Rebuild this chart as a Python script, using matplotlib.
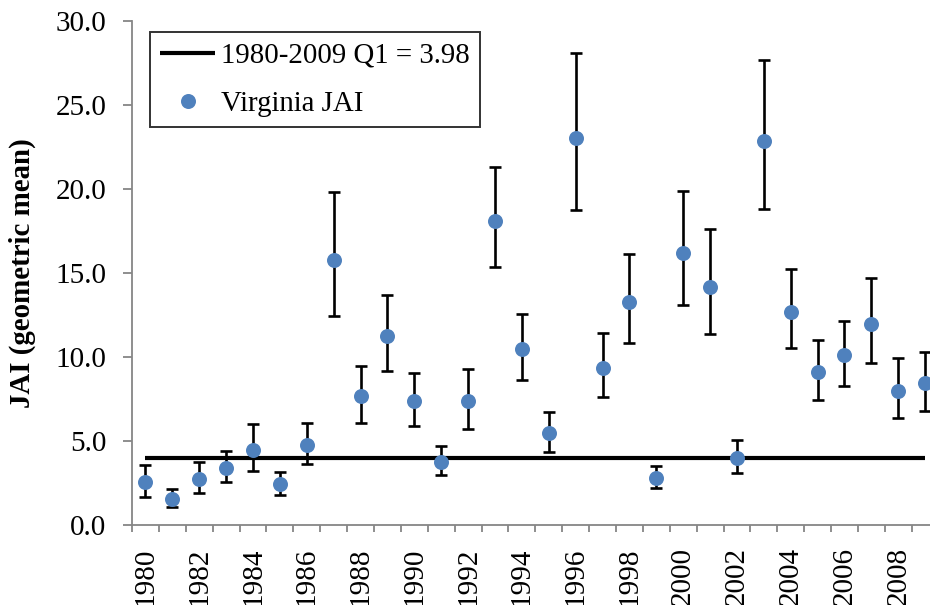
import matplotlib
matplotlib.use("Agg")
import matplotlib.pyplot as plt
from matplotlib.ticker import FixedLocator, FuncFormatter
import numpy as np

years = list(range(1980, 2010))
jai = [2.54, 1.57, 2.72, 3.41, 4.46, 2.44, 4.76, 15.77, 7.66, 11.25,
       7.36, 3.77, 7.36, 18.11, 10.48, 5.46, 23.01, 9.37, 13.27, 2.78,
       16.17, 14.17, 3.99, 22.88, 12.70, 9.11, 10.12, 11.96, 7.99, 8.43]
upper = [3.57, 2.12, 3.73, 4.40, 6.01, 3.15, 6.07, 19.85, 9.46, 13.69,
         9.07, 4.70, 9.31, 21.33, 12.58, 6.75, 28.07, 11.41, 16.11, 3.53,
         19.90, 17.60, 5.06, 27.68, 15.22, 11.01, 12.16, 14.70, 9.92, 10.32]
lower = [1.69, 1.09, 1.89, 2.54, 3.21, 1.80, 3.63, 12.44, 6.09, 9.17,
         5.89, 2.96, 5.71, 15.34, 8.65, 4.33, 18.75, 7.60, 10.81, 2.18,
         13.10, 11.35, 3.08, 18.83, 10.52, 7.46, 8.29, 9.66, 6.35, 6.80]
q1_value = 3.98
q1_label = "1980-2009 Q1 = 3.98"
series_label = "Virginia JAI"
y_label = "JAI (geometric mean)"

plt.rcParams["font.family"] = ["Liberation Serif", "DejaVu Serif"]
plt.rcParams["font.size"] = 21

W, H = 930, 605
fig = plt.figure(figsize=(W / 100, H / 100), dpi=100)
ax = fig.add_axes([132 / W, (H - 525) / H, (938.6 - 132) / W, (525 - 21) / H])

x = np.arange(len(years))
jai_a = np.array(jai)
err = [jai_a - np.array(lower), np.array(upper) - jai_a]

ax.plot(x, [q1_value] * len(x), color="black", lw=3.0, zorder=2,
        solid_capstyle="butt", label=q1_label)
ax.errorbar(x, jai_a, yerr=err, fmt="none", ecolor="black", elinewidth=1.9,
            capsize=4.5, capthick=1.9, zorder=3)
ax.plot(x, jai_a, "o", color="#4F81BD", markersize=10.8, markeredgewidth=0,
        zorder=4, label=series_label)

ax.set_xlim(-0.5, len(years) - 0.5)
ax.set_ylim(0, 30)
ax.set_yticks(np.arange(0, 30.1, 5))
ax.yaxis.set_major_formatter(FuncFormatter(lambda v, p: f"{v:.1f}"))

ax.xaxis.set_major_locator(FixedLocator(x[::2]))
ax.set_xticklabels([str(y) for y in years[::2]], rotation=90)
ax.xaxis.set_minor_locator(FixedLocator(np.arange(-0.5, len(years), 1.0)))
ax.tick_params(axis="x", which="major", length=0, pad=16)
ax.tick_params(axis="x", which="minor", length=5, width=1.3, color="#868686")
ax.tick_params(axis="y", which="major", length=6.5, width=1.3, color="#868686", pad=12)

for side in ("top", "right"):
    ax.spines[side].set_visible(False)
for side in ("left", "bottom"):
    ax.spines[side].set_color("#868686")
    ax.spines[side].set_linewidth(1.3)

ax.set_ylabel(y_label, fontweight="bold", fontsize=20.8, labelpad=14)

leg = ax.legend(loc="upper left", bbox_to_anchor=(150 / W, 1 - 32 / H),
                bbox_transform=fig.transFigure, frameon=True, fancybox=False,
                edgecolor="black", handlelength=1.9, handletextpad=0.2,
                labelspacing=0.76, borderpad=0.36, borderaxespad=0, fontsize=20.8)
leg.get_frame().set_linewidth(1.4)

fig.savefig("out.png", dpi=100)
